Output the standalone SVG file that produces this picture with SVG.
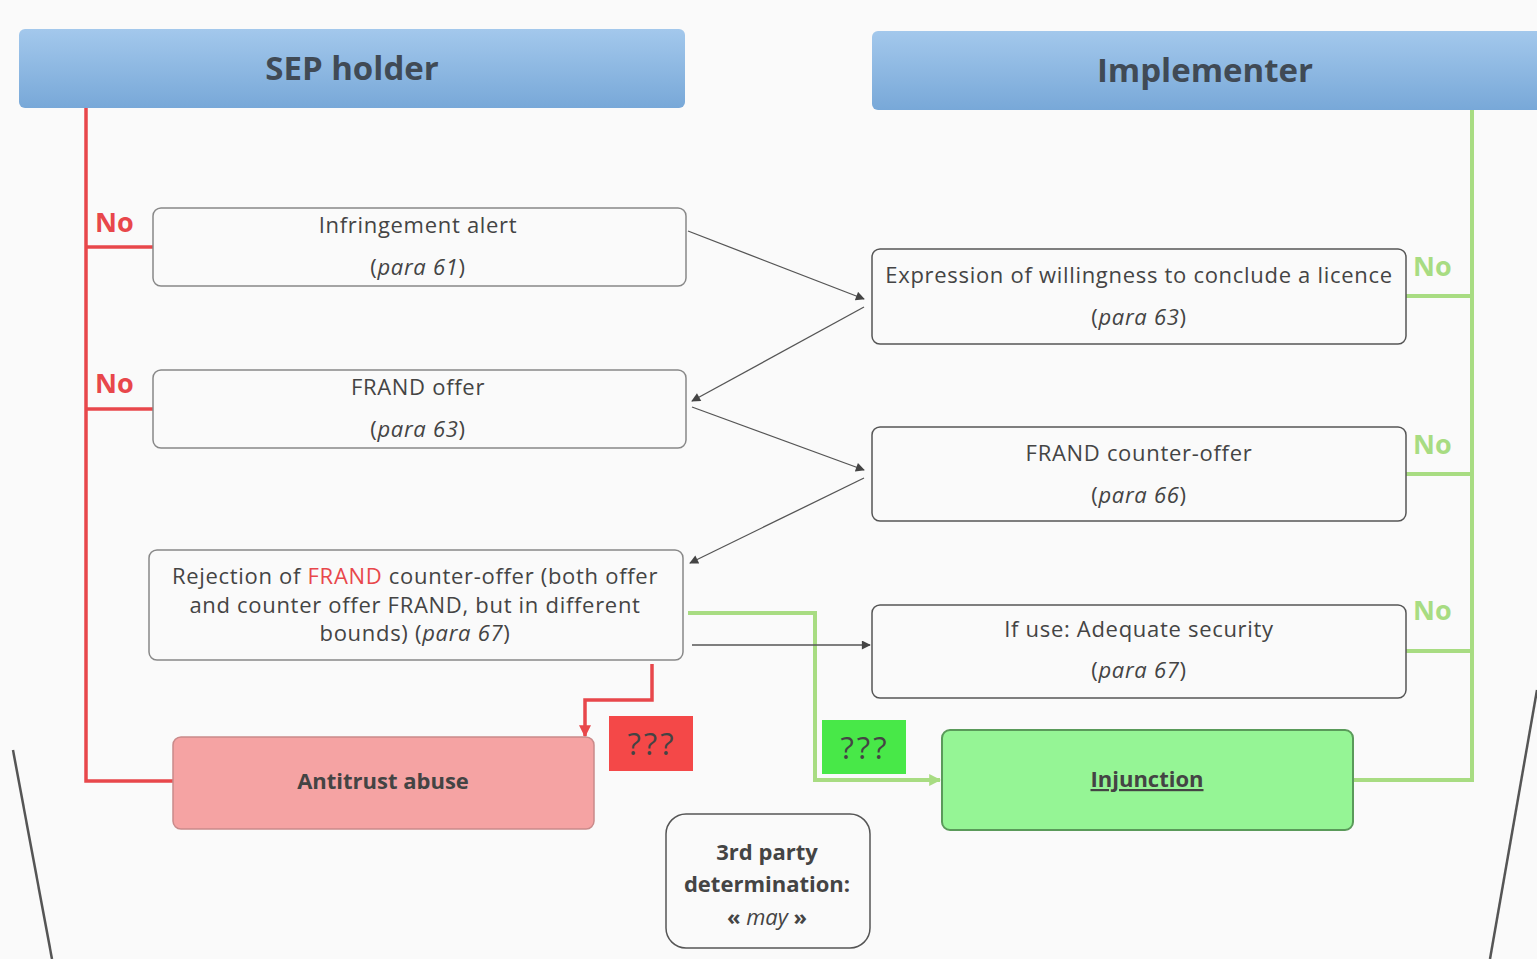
<svg xmlns="http://www.w3.org/2000/svg" width="1537" height="959" viewBox="0 0 1537 959">
<defs>
<linearGradient id="hdr" x1="0" y1="0" x2="0" y2="1">
<stop offset="0" stop-color="#a3c8ec"/>
<stop offset="1" stop-color="#78a8d8"/>
</linearGradient>
<marker id="ag" viewBox="0 0 10 10" refX="9" refY="5" markerWidth="10" markerHeight="9" markerUnits="userSpaceOnUse" orient="auto"><path d="M0,0 L10,5 L0,10 z" fill="#444"/></marker>
<marker id="ar" viewBox="0 0 10 10" refX="9" refY="5" markerWidth="12" markerHeight="12" markerUnits="userSpaceOnUse" orient="auto"><path d="M0,0 L10,5 L0,10 z" fill="#e8474b"/></marker>
<marker id="agr" viewBox="0 0 10 10" refX="9" refY="5" markerWidth="12" markerHeight="12" markerUnits="userSpaceOnUse" orient="auto"><path d="M0,0 L10,5 L0,10 z" fill="#a8dc82"/></marker>
</defs>
<style>
.t{font-family:"Open Sans","Liberation Sans",sans-serif;fill:#444;text-anchor:middle;}
.box{fill:#fafafa;stroke:#888;stroke-width:1.5;}
.boxd{fill:#fafafa;stroke:#555;stroke-width:1.5;}
.n{font-size:22px;letter-spacing:0.7px;}
.h{font-size:33px;font-weight:bold;fill:#404a55;}
.b{font-size:22px;font-weight:bold;}
.q{font-size:31px;letter-spacing:3px;}
.no{font-family:"Open Sans","Liberation Sans",sans-serif;font-size:27px;font-weight:bold;}
.red{stroke:#e8474b;stroke-width:3.5;fill:none;}
.grn{stroke:#a8dc82;stroke-width:4;fill:none;}
.gray{stroke:#555;stroke-width:1.3;fill:none;}
</style>
<rect x="0" y="0" width="1537" height="959" fill="#fafafa"/>
<path d="M13,750 L52,959" stroke="#555" stroke-width="2.5" fill="none"/>
<path d="M1537,690 L1490,959" stroke="#555" stroke-width="2.5" fill="none"/>

<g id="connectors">
<path class="red" d="M86,108 V781 H173"/>
<path class="red" d="M86,247 H153"/>
<path class="red" d="M86,409 H153"/>
<path class="red" d="M652,664 V700 H585 V736" marker-end="url(#ar)"/>
<path class="grn" d="M1472,110 V780 H1353"/>
<path class="grn" d="M1406,296 H1472"/>
<path class="grn" d="M1406,474 H1472"/>
<path class="grn" d="M1406,651 H1472"/>
<path class="grn" d="M688,613 H815 V780 H940" marker-end="url(#agr)"/>
<path class="gray" d="M688,231 L864,299" marker-end="url(#ag)"/>
<path class="gray" d="M864,307 L692,401" marker-end="url(#ag)"/>
<path class="gray" d="M692,407 L864,470" marker-end="url(#ag)"/>
<path class="gray" d="M864,478 L690,563" marker-end="url(#ag)"/>
<path class="gray" d="M692,645 L870,645" marker-end="url(#ag)"/>
<text class="no" x="95" y="232" fill="#e8474b">No</text>
<text class="no" x="95" y="393" fill="#e8474b">No</text>
<text class="no" x="1413" y="276" fill="#a8dc82">No</text>
<text class="no" x="1413" y="454" fill="#a8dc82">No</text>
<text class="no" x="1413" y="620" fill="#a8dc82">No</text>
</g>

<g id="sep-holder">
<rect x="19" y="29" width="666" height="79" rx="6" fill="url(#hdr)"/>
<text class="t h" x="352" y="80">SEP holder</text>
</g>
<g id="implementer">
<rect x="872" y="31" width="675" height="79" rx="6" fill="url(#hdr)"/>
<text class="t h" x="1205" y="82">Implementer</text>
</g>

<g id="infringement-alert">
<rect class="box" x="153" y="208" width="533" height="78" rx="8"/>
<text class="t n" x="418" y="233">Infringement alert</text>
<text class="t n" x="418" y="275">(<tspan font-style="italic">para 61</tspan>)</text>
</g>
<g id="frand-offer">
<rect class="box" x="153" y="370" width="533" height="78" rx="8"/>
<text class="t n" x="418" y="395">FRAND offer</text>
<text class="t n" x="418" y="437">(<tspan font-style="italic">para 63</tspan>)</text>
</g>
<g id="rejection">
<rect class="box" x="149" y="550" width="534" height="110" rx="8"/>
<text class="t n" x="415" y="584">Rejection of <tspan fill="#e8474b">FRAND</tspan> counter-offer (both offer</text>
<text class="t n" x="415" y="613">and counter offer FRAND, but in different</text>
<text class="t n" x="415" y="641">bounds) (<tspan font-style="italic">para 67</tspan>)</text>
</g>
<g id="expression">
<rect class="boxd" x="872" y="249" width="534" height="95" rx="8"/>
<text class="t n" x="1139" y="283">Expression of willingness to conclude a licence</text>
<text class="t n" x="1139" y="325">(<tspan font-style="italic">para 63</tspan>)</text>
</g>
<g id="counter-offer">
<rect class="boxd" x="872" y="427" width="534" height="94" rx="8"/>
<text class="t n" x="1139" y="461">FRAND counter-offer</text>
<text class="t n" x="1139" y="503">(<tspan font-style="italic">para 66</tspan>)</text>
</g>
<g id="adequate-security">
<rect class="boxd" x="872" y="605" width="534" height="93" rx="8"/>
<text class="t n" x="1139" y="637">If use: Adequate security</text>
<text class="t n" x="1139" y="678">(<tspan font-style="italic">para 67</tspan>)</text>
</g>
<g id="antitrust-abuse">
<rect x="173" y="737" width="421" height="92" rx="8" fill="#f5a3a3" stroke="#c98a8a" stroke-width="1.5"/>
<text class="t b" x="383" y="789">Antitrust abuse</text>
</g>
<g id="injunction">
<rect x="942" y="730" width="411" height="100" rx="8" fill="#95f595" stroke="#5a9a5a" stroke-width="2"/>
<text class="t b" x="1147" y="787" text-decoration="underline">Injunction</text>
</g>
<g id="q-red">
<rect x="609" y="716" width="84" height="55" fill="#f44848"/>
<text class="t q" x="652" y="755" fill="#5a3030">???</text>
</g>
<g id="q-green">
<rect x="822" y="720" width="84" height="54" fill="#48e848"/>
<text class="t q" x="865" y="759" fill="#2f4f2f">???</text>
</g>
<g id="third-party">
<rect class="boxd" x="666" y="814" width="204" height="134" rx="20"/>
<text class="t b" x="767" y="860">3rd party</text>
<text class="t b" x="767" y="892">determination:</text>
<text class="t b" x="767" y="925">« <tspan font-style="italic" font-weight="normal">may</tspan> »</text>
</g>
</svg>
